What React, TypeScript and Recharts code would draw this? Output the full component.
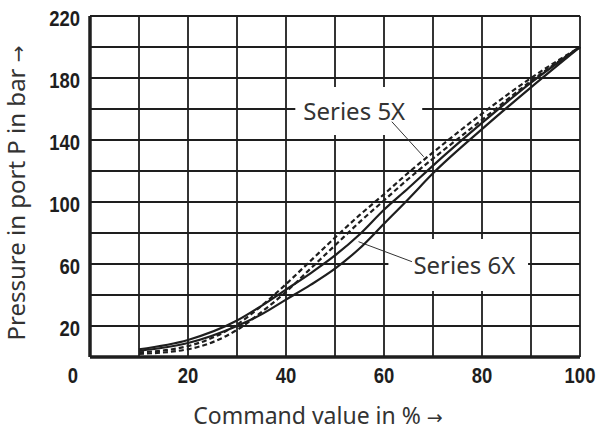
import {
  LineChart,
  Line,
  XAxis,
  YAxis,
  CartesianGrid,
  ReferenceArea,
  ReferenceLine,
} from 'recharts'

// command value in %
const commandValues = [10, 20, 30, 35, 40, 45, 50, 55, 60, 65, 70, 80, 90, 100]
// pressure in bar
const series6XRising = [5, 11, 23.5, 33, 43.5, 54, 65.5, 79, 95, 109, 123.5, 151, 177, 200]
const series6XFalling = [4, 9, 20, 27.5, 37, 46.5, 57, 70, 86, 102, 118.5, 147, 174, 200]
const series5XRising = [3, 7, 21, 33, 47, 62, 77, 91.5, 105, 119, 132, 157, 180, 200]
const series5XFalling = [2, 5, 17.5, 29, 42, 57, 72, 87, 101, 115, 128, 153, 178, 200]

const xTicks = [0, 10, 20, 30, 40, 50, 60, 70, 80, 90, 100]
const yTicks = [0, 20, 40, 60, 80, 100, 120, 140, 160, 180, 200, 220]

const data = commandValues.map((x, i) => ({
  x,
  s6a: series6XRising[i],
  s6b: series6XFalling[i],
  s5a: series5XRising[i],
  s5b: series5XFalling[i],
}))

const INK = '#1e1e1e'
const TICK_FONT = "'Liberation Sans', Arial, sans-serif"
const TEXT_FONT = "'Noto Sans', 'Open Sans', sans-serif"
const ARROW_FONT = "'DejaVu Sans', sans-serif"
const NARROW = 0.84 // squeeze bold digits to look condensed

function XTick({ x, y, payload }: any) {
  const v = payload.value
  if (v % 20 !== 0) return <g />
  const cx = v === 0 ? x - 17 : x
  return (
    <g transform={`translate(${cx},${y}) scale(${NARROW} 1)`}>
      <text
        x={0}
        y={0}
        dy="0.71em"
        textAnchor="middle"
        fontFamily={TICK_FONT}
        fontWeight="bold"
        fontSize={22}
        fill={INK}
      >
        {v}
      </text>
    </g>
  )
}

function YTick({ x, y, payload }: any) {
  const v = payload.value
  if (v === 0 || (v - 20) % 40 !== 0) return <g />
  return (
    <g transform={`translate(${x},${y + 2}) scale(${NARROW} 1)`}>
      <text
        x={0}
        y={0}
        dy="0.355em"
        textAnchor="end"
        fontFamily={TICK_FONT}
        fontWeight="bold"
        fontSize={22}
        fill={INK}
      >
        {v}
      </text>
    </g>
  )
}

const calloutLabel = (text: string, dx: number) => (props: any) => {
  const vb = props.viewBox
  return (
    <text
      x={vb.x + dx}
      y={vb.y + vb.height / 2}
      dy="0.36em"
      fontFamily={TEXT_FONT}
      fontSize={24}
      fill="#333"
    >
      {text}
    </text>
  )
}

export default function App() {
  return (
    <div style={{ position: 'fixed', left: 0, top: 0, width: 597, height: 431, background: '#fff' }}>
      <LineChart
        width={597}
        height={431}
        data={data}
        margin={{ top: 16, right: 17, left: 0, bottom: 0 }}
      >
        <CartesianGrid stroke={INK} strokeWidth={1.8} />
        <XAxis
          dataKey="x"
          type="number"
          domain={[0, 100]}
          ticks={xTicks}
          interval={0}
          height={74}
          tickLine={false}
          tickMargin={4}
          tick={<XTick />}
          axisLine={{ stroke: INK, strokeWidth: 3.5 }}
          label={{
            content: () => (
              <text x={318} y={424} textAnchor="middle" fontFamily={TEXT_FONT} fontSize={23} fill="#333">
                Command value in %{' '}
                <tspan fontFamily={ARROW_FONT} fontSize={19}>→</tspan>
              </text>
            ),
          }}
        />
        <YAxis
          type="number"
          domain={[0, 220]}
          ticks={yTicks}
          interval={0}
          width={90}
          tickLine={false}
          tickMargin={4}
          tick={<YTick />}
          axisLine={{ stroke: INK, strokeWidth: 3.5 }}
          label={{
            content: () => (
              <text
                x={25}
                y={193}
                transform="rotate(-90 25 193)"
                textAnchor="middle"
                fontFamily={TEXT_FONT}
                fontSize={24}
                fill="#333"
              >
                Pressure in port P in bar{' '}
                <tspan fontFamily={ARROW_FONT} fontSize={20}>→</tspan>
              </text>
            ),
          }}
        />
        <ReferenceArea
          x1={41.9}
          x2={67.8}
          y1={143.2}
          y2={174.2}
          fill="#fff"
          fillOpacity={1}
          stroke="none"
          label={calloutLabel('Series 5X', 8)}
        />
        <ReferenceArea
          x1={60.9}
          x2={89.4}
          y1={42.6}
          y2={76.1}
          fill="#fff"
          fillOpacity={1}
          stroke="none"
          label={calloutLabel('Series 6X', 25)}
        />
        <ReferenceLine
          segment={[{ x: 61.6, y: 151.8 }, { x: 68.1, y: 129.2 }]}
          stroke="#333"
          strokeWidth={1}
        />
        <ReferenceLine
          segment={[{ x: 54.8, y: 74.4 }, { x: 65.7, y: 61.5 }]}
          stroke="#333"
          strokeWidth={1}
        />
        <Line type="monotone" dataKey="s5a" stroke={INK} strokeWidth={2.2} strokeDasharray="5 3" dot={false} isAnimationActive={false} />
        <Line type="monotone" dataKey="s5b" stroke={INK} strokeWidth={2.2} strokeDasharray="5 3" dot={false} isAnimationActive={false} />
        <Line type="monotone" dataKey="s6a" stroke={INK} strokeWidth={2.2} dot={false} isAnimationActive={false} />
        <Line type="monotone" dataKey="s6b" stroke={INK} strokeWidth={2.2} dot={false} isAnimationActive={false} />
      </LineChart>
    </div>
  )
}
